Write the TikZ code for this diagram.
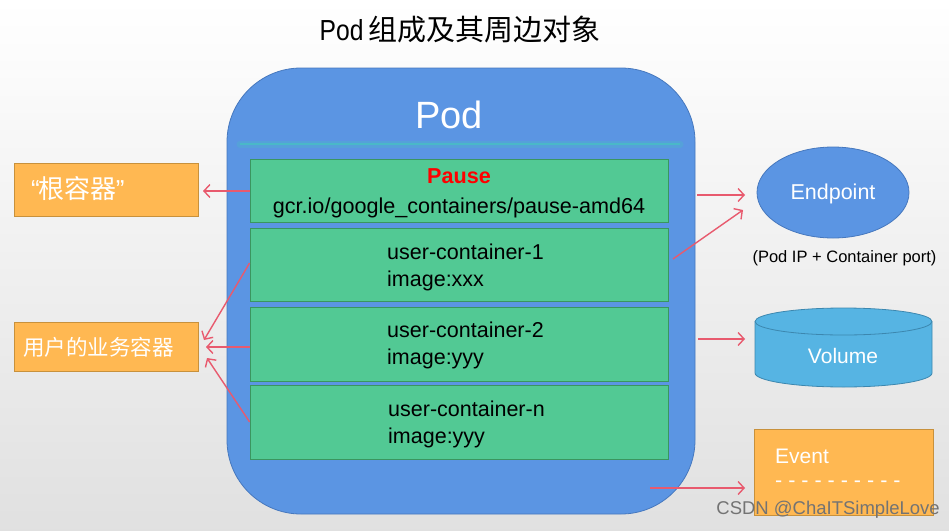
\documentclass[tikz,border=0pt]{standalone}
\usepackage{fontspec}
\usepackage{graphicx}
\setmainfont{Liberation Sans}
\newfontfamily\cjk{Noto Sans CJK SC}
\usetikzlibrary{arrows.meta,shapes.geometric}
\definecolor{podblue}{RGB}{91,149,227}
\definecolor{podedge}{RGB}{70,120,190}
\definecolor{cgreen}{RGB}{82,201,148}
\definecolor{cgreenedge}{RGB}{58,150,95}
\definecolor{corange}{RGB}{255,184,82}
\definecolor{corangeedge}{RGB}{200,145,60}
\definecolor{volblue}{RGB}{86,180,227}
\definecolor{voledge}{RGB}{60,135,175}
\definecolor{arrowred}{RGB}{232,90,110}
\definecolor{glow}{RGB}{74,184,200}
\tikzset{
  fs/.style={font=\fontsize{#1}{#1}\selectfont},
  cbox/.style={draw=cgreenedge, fill=cgreen, line width=0.8pt, minimum width=418pt, inner sep=0pt},
  obox/.style={draw=corangeedge, fill=corange, line width=0.8pt, minimum width=184pt, inner sep=0pt},
  ctext/.style={anchor=west, align=left, inner sep=0pt, font=\fontsize{21.5}{27}\selectfont},
  arr/.style={draw=arrowred, line width=1.4pt, -{Straight Barb[length=6pt,width=13pt,line width=1.4pt]}},
}
\begin{document}
\begin{tikzpicture}[x=1pt,y=-1pt]
\shade[top color=white, bottom color=black!12] (0,0) rectangle (949,530);
\useasboundingbox (0,0) rectangle (949,530);
% title
\node[fs=29] (title) at (460,30) {\scalebox{0.85}[1]{Pod}\,{\cjk 组成及其周边对象}};
% pod
\draw[podedge, fill=podblue, line width=0.8pt, rounded corners=74pt] (227,68) rectangle (695,514);
\node[white, fs=38] (podlabel) at (449,115) {Pod};
\draw[glow, opacity=0.35, line width=7pt, line cap=round] (240,144) -- (680,144);
\draw[glow, line width=1.2pt] (240,144) -- (680,144);
% containers
\node[cbox, minimum height=63pt] (pause) at (459,190.5) {};
\node[align=center, inner sep=0pt, font=\fontsize{21.6}{30}\selectfont] (pausetxt) at (459,193)
  {\textcolor{red}{\textbf{Pause}}\\gcr.io/google\_containers/pause-amd64};
\node[cbox, minimum height=73pt] (uc1) at (459,264.5) {};
\node[ctext] (uc1t) at (387,267) {user-container-1\\image:xxx};
\node[cbox, minimum height=74pt] (uc2) at (459,344) {};
\node[ctext] (uc2t) at (387,345.5) {user-container-2\\image:yyy};
\node[cbox, minimum height=74pt] (ucn) at (459,422) {};
\node[ctext] (ucnt) at (388,424.5) {user-container-n\\image:yyy};
% left boxes
\node[obox, minimum height=53pt] (root) at (106,189.5) {};
\node[anchor=west, white, inner sep=0pt, fs=26] (roott) at (31,189) {“\kern-1pt{\cjk 根容器}\kern-1pt”};
\node[obox, minimum height=49pt] (user) at (106,346.5) {};
\node[anchor=west, white, inner sep=0pt, fs=21.5] (usert) at (23,347) {\cjk 用户的业务容器};
% right side
\node[ellipse, draw=podedge, fill=podblue, line width=0.8pt, minimum width=152pt, minimum height=91pt, inner sep=0pt] (ep) at (833,192.5) {};
\node[white, fs=21.5] (ept) at (833,194) {Endpoint};
\node[fs=16.5] (eplabel) at (844.5,258) {(Pod IP + Container port)};
% volume cylinder
\draw[voledge, fill=volblue, line width=0.8pt] (755,321.5) -- (755,373) arc[start angle=180, end angle=360, x radius=88.5pt, y radius=14pt] -- (932,321.5);
\draw[voledge, fill=volblue, line width=0.8pt] (843.5,321.5) ellipse[x radius=88.5pt, y radius=13.5pt];
\node[white, fs=21] (vol) at (843,356) {Volume};
% event
\node[draw=corangeedge, fill=corange, line width=0.8pt, minimum width=179pt, minimum height=86pt, inner sep=0pt] (event) at (843.5,472) {};
\node[anchor=west, white, inner sep=0pt, fs=21] (eventt) at (775,456) {Event};
\node[anchor=west, white, inner sep=0pt, fs=21.5] (eventd) at (775,484) {- - - - - - - - - -};
% arrow targets
\coordinate (tRoot) at (203,191);
\coordinate (tU1) at (204,340);
\coordinate (tU2) at (206,347);
\coordinate (tUn) at (207,358);
\coordinate (tEp1) at (745,195);
\coordinate (tEp2) at (743,210);
\coordinate (tVol) at (745,339);
\coordinate (tEv) at (745,488);
\coordinate (sEp1) at (697,195);
\coordinate (sEp2) at (673,259);
\coordinate (sVol) at (698,339);
\coordinate (sEv) at (650,488);
% arrows
\draw[arr] (pause.west |- tRoot) -- (tRoot);
\draw[arr] ([yshift=1.5pt]uc1.west) -- (tU1);
\draw[arr] (uc2.west |- tU2) -- (tU2);
\draw[arr] (ucn.west) -- (tUn);
\draw[arr] (sEp1) -- (tEp1);
\draw[arr] (sEp2) -- (tEp2);
\draw[arr] (sVol) -- (tVol);
\draw[arr] (sEv) -- (tEv);
% watermark
\node[anchor=east, black!55, inner sep=0pt, fs=18.5] (wm) at (940,510) {CSDN @ChaITSimpleLove};
\end{tikzpicture}
\end{document}
